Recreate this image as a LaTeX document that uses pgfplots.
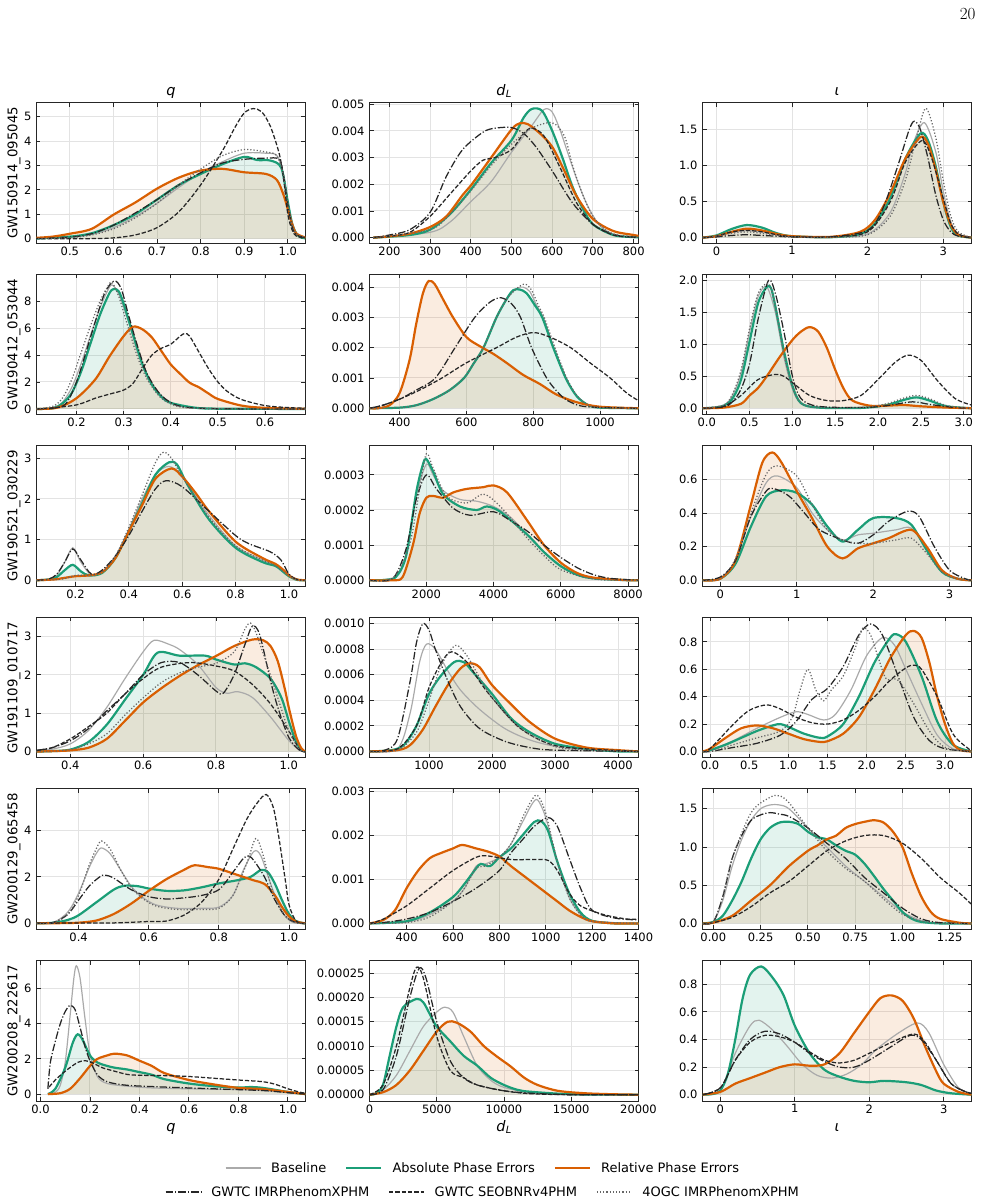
\documentclass[border=0pt]{standalone}
\usepackage{pgfplots}
\pgfplotsset{compat=1.18}
\usepackage{pgfplotstable}
\usepackage{fontspec}
\newfontfamily\dv{DejaVu Sans}[ItalicFont={DejaVu Sans Oblique}]
\definecolor{cG}{HTML}{1B9E77}
\definecolor{cO}{HTML}{D95F02}
\definecolor{cB}{HTML}{AAAAAA}
\definecolor{cK}{HTML}{262626}
\definecolor{cT}{HTML}{666666}
\tikzset{
 sG/.style={draw=cG, line width=2.2pt},
 sO/.style={draw=cO, line width=2.2pt},
 sB/.style={draw=cB, line width=1.2pt},
 sC/.style={draw=cK, line width=1.25pt, dash pattern=on 7.5pt off 2pt on 1.2pt off 2pt},
 sS/.style={draw=cK, line width=1.25pt, dash pattern=on 4.4pt off 1.9pt},
 sT/.style={draw=cT, line width=1.25pt, dash pattern=on 1.2pt off 2pt},
 fG/.style={draw=none, fill=cG, fill opacity=0.12},
 fO/.style={draw=none, fill=cO, fill opacity=0.12},
}
\newcommand{\curves}[6]{%
 \addplot[forget plot, smooth, fG] table {#1} \closedcycle;
 \addplot[forget plot, smooth, fO] table {#2} \closedcycle;
 \addplot[forget plot, smooth, sB] table {#3};
 \addplot[forget plot, smooth, sG] table {#1};
 \addplot[forget plot, smooth, sO] table {#2};
 \ifx#5\relax\else\addplot[forget plot, smooth, sC] table {#5};\fi
 \ifx#6\relax\else\addplot[forget plot, smooth, sS] table {#6};\fi
 \ifx#4\relax\else\addplot[forget plot, smooth, sT] table {#4};\fi
}
\pgfplotsset{
 pnl/.style={
  width=269pt, height=140.5pt, scale only axis, anchor=north west,
  tick align=inside, major tick length=4pt, tick pos=both,
  grid=major, major grid style={black!11, line width=1pt},
  axis line style={black!85, line width=0.9pt},
  tick style={black!85, line width=0.9pt},
  tick label style={font=\dv\fontsize{11.5}{13.8}\selectfont},
  yticklabel style={xshift=-1.5pt},
  title style={at={(axis description cs:0.5,1)}, anchor=base, yshift=1.5pt, font=\dv\itshape\fontsize{14.5}{17}\selectfont},
  xlabel style={at={(axis description cs:0.5,0)}, anchor=base, yshift=-30pt, font=\dv\itshape\fontsize{14.5}{17}\selectfont},
  ylabel style={at={(axis description cs:-0.084,0.5)}, anchor=center, font=\dv\fontsize{13.3}{16}\selectfont},
  scaled x ticks=false, scaled y ticks=false,
 },
 lgd/.style={
  legend columns=3,
  legend image code/.code={\draw[##1] (0pt,0pt) -- (35pt,0pt);},
  legend style={anchor=center, draw=none, fill=none,
   font=\dv\fontsize{13}{15.6}\selectfont,
   /tikz/every odd column/.append style={column sep=8pt},
   /tikz/every even column/.append style={column sep=17pt}},
 },
}
\newcommand{\dL}{d\kern0.3pt\raisebox{-2.5pt}{\fontsize{10}{12}\selectfont L}}
% ---------------- Row A : GW150914_095045 ----------------
\pgfplotstableread[row sep=\\]{x y\\0.42 0\\0.5 0.08\\0.55 0.22\\0.6 0.55\\0.65 1.0\\0.7 1.6\\0.75 2.2\\0.8 2.65\\0.85 3.05\\0.9 3.35\\0.93 3.22\\0.96 3.2\\0.985 2.9\\1.0 1.5\\1.01 0.6\\1.02 0.2\\1.03 0.05\\1.045 0\\}\TAqG
\pgfplotstableread[row sep=\\]{x y\\0.42 0.03\\0.46 0.08\\0.5 0.2\\0.55 0.4\\0.6 0.98\\0.65 1.48\\0.7 2.05\\0.75 2.5\\0.8 2.79\\0.85 2.86\\0.9 2.72\\0.95 2.65\\0.975 2.4\\0.99 1.8\\1.0 1.2\\1.01 0.6\\1.02 0.2\\1.045 0.02\\}\TAqO
\pgfplotstableread[row sep=\\]{x y\\0.42 0\\0.5 0.05\\0.55 0.17\\0.6 0.45\\0.65 0.9\\0.7 1.45\\0.75 2.1\\0.8 2.7\\0.85 3.15\\0.9 3.5\\0.95 3.5\\0.975 3.4\\0.99 2.6\\1.0 1.5\\1.01 0.6\\1.02 0.2\\1.045 0.02\\}\TAqB
\pgfplotstableread[row sep=\\]{x y\\0.42 0\\0.5 0.04\\0.55 0.15\\0.6 0.4\\0.65 0.85\\0.7 1.45\\0.75 2.2\\0.8 2.85\\0.85 3.4\\0.9 3.65\\0.95 3.55\\0.975 3.4\\0.99 2.6\\1.0 1.5\\1.01 0.6\\1.02 0.2\\1.045 0.02\\}\TAqT
\pgfplotstableread[row sep=\\]{x y\\0.42 0\\0.5 0.06\\0.55 0.2\\0.6 0.55\\0.65 1.05\\0.7 1.6\\0.75 2.2\\0.8 2.7\\0.85 3.1\\0.9 3.25\\0.95 3.3\\0.98 3.25\\0.99 2.6\\1.0 1.4\\1.01 0.5\\1.02 0.15\\1.045 0.02\\}\TAqC
\pgfplotstableread[row sep=\\]{x y\\0.42 0\\0.55 0.0\\0.6 0.03\\0.65 0.15\\0.7 0.45\\0.75 1.1\\0.8 2.2\\0.85 3.6\\0.88 4.6\\0.9 5.15\\0.92 5.33\\0.94 5.2\\0.96 4.6\\0.98 3.5\\0.99 2.5\\1.0 1.0\\1.01 0.35\\1.02 0.1\\1.045 0.01\\}\TAqS
\pgfplotstableread[row sep=\\]{x y\\160 0\\250 1e-4\\300 3e-4\\350 9e-4\\400 1.8e-3\\450 2.8e-3\\500 3.65e-3\\530 4.5e-3\\550 4.82e-3\\575 4.75e-3\\600 4.0e-3\\625 3.0e-3\\650 1.9e-3\\675 1.1e-3\\700 5e-4\\750 1e-4\\800 2e-5\\812 1e-5\\}\TAdG
\pgfplotstableread[row sep=\\]{x y\\160 0\\200 5e-5\\250 1.5e-4\\300 4e-4\\340 8e-4\\380 1.6e-3\\400 1.95e-3\\450 3.0e-3\\500 4.05e-3\\520 4.28e-3\\540 4.25e-3\\570 3.9e-3\\600 3.4e-3\\630 2.5e-3\\660 1.55e-3\\700 7e-4\\750 2.5e-4\\800 1e-4\\812 7e-5\\}\TAdO
\pgfplotstableread[row sep=\\]{x y\\160 0\\300 2e-4\\350 6e-4\\400 1.35e-3\\450 2.1e-3\\500 3.2e-3\\550 4.2e-3\\580 4.8e-3\\600 4.7e-3\\620 4.0e-3\\642 3.0e-3\\665 2.0e-3\\690 1.1e-3\\720 4e-4\\760 8e-5\\812 1e-5\\}\TAdB
\pgfplotstableread[row sep=\\]{x y\\160 0\\300 3e-4\\350 9e-4\\400 1.75e-3\\450 2.7e-3\\500 3.5e-3\\550 4.1e-3\\600 4.3e-3\\630 3.8e-3\\650 2.7e-3\\675 1.6e-3\\700 8e-4\\730 3e-4\\760 1e-4\\812 1e-5\\}\TAdT
\pgfplotstableread[row sep=\\]{x y\\160 0\\200 1e-4\\250 3e-4\\300 9.5e-4\\340 2.3e-3\\380 3.3e-3\\430 3.95e-3\\460 4.1e-3\\500 4.12e-3\\530 3.9e-3\\560 3.4e-3\\600 2.5e-3\\650 1.3e-3\\700 5e-4\\750 1.2e-4\\800 2e-5\\812 1e-5\\}\TAdC
\pgfplotstableread[row sep=\\]{x y\\160 0\\200 5e-5\\250 2e-4\\300 8e-4\\350 1.65e-3\\400 2.5e-3\\430 2.9e-3\\460 3.0e-3\\500 3.3e-3\\530 3.9e-3\\550 4.1e-3\\580 3.8e-3\\620 2.6e-3\\660 1.3e-3\\700 5e-4\\750 1e-4\\800 2e-5\\812 1e-5\\}\TAdS
\pgfplotstableread[row sep=\\]{x y\\-0.185 0\\0 0.03\\0.2 0.12\\0.4 0.175\\0.6 0.14\\0.8 0.06\\1.0 0.02\\1.5 0.005\\1.9 0.05\\2.1 0.2\\2.3 0.55\\2.5 1.1\\2.7 1.45\\2.8 1.35\\2.9 1.0\\3.0 0.5\\3.1 0.15\\3.2 0.03\\3.375 0\\}\TAiG
\pgfplotstableread[row sep=\\]{x y\\-0.185 0\\0 0.02\\0.2 0.08\\0.4 0.125\\0.6 0.1\\0.8 0.05\\1.0 0.02\\1.5 0.01\\1.9 0.08\\2.1 0.25\\2.3 0.62\\2.5 1.1\\2.7 1.4\\2.8 1.3\\2.9 0.95\\3.0 0.5\\3.1 0.18\\3.2 0.04\\3.375 0\\}\TAiO
\pgfplotstableread[row sep=\\]{x y\\-0.185 0\\0 0.02\\0.2 0.07\\0.4 0.1\\0.6 0.08\\0.8 0.04\\1.0 0.01\\1.5 0.005\\2.0 0.05\\2.3 0.35\\2.5 0.9\\2.6 1.3\\2.75 1.6\\2.9 1.2\\3.0 0.65\\3.1 0.22\\3.2 0.05\\3.375 0\\}\TAiB
\pgfplotstableread[row sep=\\]{x y\\-0.185 0\\0 0.02\\0.2 0.06\\0.4 0.08\\0.6 0.06\\0.8 0.03\\1.0 0.01\\1.5 0.005\\2.0 0.04\\2.3 0.3\\2.5 0.8\\2.65 1.4\\2.77 1.8\\2.9 1.4\\3.0 0.8\\3.1 0.3\\3.2 0.08\\3.375 0\\}\TAiT
\pgfplotstableread[row sep=\\]{x y\\-0.185 0\\0 0.01\\0.2 0.03\\0.4 0.04\\0.6 0.03\\0.8 0.02\\1.0 0.01\\1.5 0.01\\2.0 0.1\\2.2 0.4\\2.4 1.0\\2.55 1.5\\2.62 1.62\\2.7 1.5\\2.8 1.1\\2.9 0.6\\3.0 0.25\\3.1 0.08\\3.2 0.02\\3.375 0\\}\TAiC
\pgfplotstableread[row sep=\\]{x y\\-0.185 0\\0 0.02\\0.2 0.08\\0.4 0.1\\0.6 0.08\\0.8 0.04\\1.0 0.015\\1.5 0.01\\2.0 0.08\\2.3 0.5\\2.5 1.05\\2.72 1.35\\2.85 1.1\\3.0 0.55\\3.1 0.2\\3.2 0.05\\3.375 0\\}\TAiS
% ---------------- Row B : GW190412_053044 ----------------
\pgfplotstableread[row sep=\\]{x y\\0.115 0\\0.15 0.05\\0.17 0.4\\0.19 1.2\\0.21 2.8\\0.23 4.9\\0.25 7.0\\0.27 8.6\\0.28 8.9\\0.29 8.7\\0.30 7.8\\0.32 5.5\\0.34 3.3\\0.36 1.8\\0.38 0.9\\0.40 0.45\\0.45 0.1\\0.5 0.02\\0.686 0\\}\TBqG
\pgfplotstableread[row sep=\\]{x y\\0.115 0\\0.16 0.1\\0.2 0.8\\0.24 2.2\\0.27 3.9\\0.3 5.4\\0.32 6.1\\0.34 5.9\\0.36 5.3\\0.38 4.3\\0.4 3.3\\0.42 2.6\\0.44 1.95\\0.46 1.6\\0.48 1.15\\0.5 0.74\\0.55 0.25\\0.6 0.08\\0.686 0.01\\}\TBqO
\pgfplotstableread[row sep=\\]{x y\\0.115 0\\0.15 0.1\\0.17 0.5\\0.19 1.6\\0.21 3.4\\0.23 5.5\\0.25 7.5\\0.265 8.7\\0.275 9.2\\0.29 8.5\\0.31 6.5\\0.33 4.2\\0.35 2.5\\0.38 1.0\\0.42 0.2\\0.5 0.02\\0.686 0\\}\TBqB
\pgfplotstableread[row sep=\\]{x y\\0.115 0\\0.15 0.2\\0.17 0.8\\0.19 2.2\\0.21 4.2\\0.23 6.2\\0.25 8.0\\0.265 9.0\\0.275 9.4\\0.29 8.3\\0.31 6.0\\0.33 3.8\\0.35 2.2\\0.38 0.8\\0.42 0.15\\0.5 0.01\\0.686 0\\}\TBqT
\pgfplotstableread[row sep=\\]{x y\\0.115 0\\0.16 0.1\\0.18 0.5\\0.2 2.0\\0.22 4.2\\0.24 6.5\\0.26 8.6\\0.28 9.5\\0.295 8.9\\0.31 7.0\\0.33 4.6\\0.35 2.6\\0.38 1.0\\0.42 0.2\\0.5 0.02\\0.686 0\\}\TBqC
\pgfplotstableread[row sep=\\]{x y\\0.115 0\\0.14 0.05\\0.2 0.3\\0.24 0.8\\0.27 1.1\\0.3 1.4\\0.32 1.9\\0.34 3.0\\0.36 4.0\\0.38 4.5\\0.4 4.8\\0.42 5.4\\0.43 5.6\\0.44 5.4\\0.46 4.2\\0.48 3.0\\0.5 2.0\\0.52 1.3\\0.55 0.7\\0.6 0.25\\0.65 0.1\\0.686 0.05\\}\TBqS
\pgfplotstableread[row sep=\\]{x y\\310 0\\400 2e-5\\450 1e-4\\500 3e-4\\550 6e-4\\593 1e-3\\620 1.45e-3\\651 2e-3\\690 3e-3\\720 3.6e-3\\740 3.9e-3\\760 3.92e-3\\780 3.8e-3\\805 3.4e-3\\827 3e-3\\860 2e-3\\897 1e-3\\930 4e-4\\965 1e-4\\1000 2e-5\\1115 0\\}\TBdG
\pgfplotstableread[row sep=\\]{x y\\310 0\\335 0\\370 1e-4\\400 5e-4\\430 1.6e-3\\450 2.8e-3\\470 3.8e-3\\487 4.2e-3\\505 4.1e-3\\530 3.6e-3\\560 3.0e-3\\600 2.35e-3\\640 2.05e-3\\680 1.8e-3\\720 1.5e-3\\770 1.1e-3\\820 8e-4\\870 4.5e-4\\930 2e-4\\1000 5e-5\\1115 0\\}\TBdO
\pgfplotstableread[row sep=\\]{x y\\310 0\\400 2e-5\\450 1e-4\\500 3e-4\\550 6e-4\\593 1e-3\\620 1.45e-3\\651 2e-3\\690 3e-3\\720 3.6e-3\\750 3.95e-3\\770 4.0e-3\\790 3.85e-3\\810 3.4e-3\\830 3e-3\\862 2e-3\\898 1e-3\\930 4e-4\\965 1e-4\\1000 2e-5\\1115 0\\}\TBdB
\pgfplotstableread[row sep=\\]{x y\\310 0\\400 2e-5\\450 1e-4\\500 3e-4\\550 6e-4\\593 1e-3\\620 1.45e-3\\651 2e-3\\690 3e-3\\720 3.6e-3\\750 3.95e-3\\775 4.1e-3\\795 3.9e-3\\815 3.4e-3\\833 3e-3\\865 2e-3\\900 1e-3\\932 4e-4\\965 1e-4\\1000 2e-5\\1115 0\\}\TBdT
\pgfplotstableread[row sep=\\]{x y\\310 0\\350 1e-4\\400 3e-4\\450 6e-4\\507 1e-3\\566 2e-3\\625 3e-3\\670 3.5e-3\\703 3.65e-3\\735 3.45e-3\\762 3e-3\\795 2e-3\\840 1e-3\\880 4.5e-4\\912 2e-4\\960 5e-5\\1115 0\\}\TBdC
\pgfplotstableread[row sep=\\]{x y\\310 0\\350 1e-4\\400 3e-4\\460 6e-4\\527 1e-3\\600 1.5e-3\\690 2e-3\\750 2.35e-3\\801 2.5e-3\\850 2.35e-3\\912 2e-3\\970 1.5e-3\\1030 1e-3\\1080 5e-4\\1115 2.5e-4\\}\TBdS
\pgfplotstableread[row sep=\\]{x y\\-0.05 0\\0.1 0.01\\0.2 0.04\\0.3 0.15\\0.4 0.45\\0.5 1.05\\0.6 1.65\\0.7 1.9\\0.75 1.88\\0.8 1.6\\0.9 0.9\\1.0 0.35\\1.1 0.08\\1.3 0.01\\1.8 0.005\\2.1 0.05\\2.3 0.13\\2.45 0.17\\2.6 0.12\\2.8 0.03\\3.09 0\\}\TBiG
\pgfplotstableread[row sep=\\]{x y\\-0.05 0\\0.2 0.01\\0.4 0.07\\0.5 0.2\\0.6 0.32\\0.7 0.5\\0.85 0.8\\1.0 1.07\\1.1 1.2\\1.2 1.27\\1.3 1.2\\1.4 0.95\\1.5 0.6\\1.6 0.3\\1.7 0.12\\1.9 0.04\\2.1 0.04\\2.3 0.05\\2.5 0.03\\2.8 0.01\\3.09 0\\}\TBiO
\pgfplotstableread[row sep=\\]{x y\\-0.05 0\\0.2 0.05\\0.3 0.2\\0.4 0.55\\0.5 1.2\\0.6 1.75\\0.7 1.9\\0.8 1.5\\0.9 0.8\\1.0 0.3\\1.1 0.07\\1.3 0.01\\1.8 0.005\\2.1 0.05\\2.3 0.13\\2.45 0.17\\2.6 0.12\\2.8 0.03\\3.09 0\\}\TBiB
\pgfplotstableread[row sep=\\]{x y\\-0.05 0\\0.2 0.05\\0.3 0.22\\0.4 0.6\\0.5 1.25\\0.6 1.8\\0.72 1.95\\0.8 1.6\\0.9 0.85\\1.0 0.33\\1.1 0.08\\1.3 0.01\\1.8 0.01\\2.1 0.07\\2.3 0.16\\2.45 0.2\\2.6 0.15\\2.8 0.04\\3.09 0\\}\TBiT
\pgfplotstableread[row sep=\\]{x y\\-0.05 0\\0.2 0.02\\0.3 0.1\\0.4 0.3\\0.5 0.7\\0.6 1.4\\0.72 2.0\\0.8 1.8\\0.9 1.2\\1.0 0.5\\1.1 0.15\\1.3 0.03\\1.8 0.01\\2.1 0.04\\2.4 0.1\\2.6 0.06\\2.9 0.01\\3.09 0\\}\TBiC
\pgfplotstableread[row sep=\\]{x y\\-0.05 0\\0.2 0.03\\0.4 0.2\\0.6 0.45\\0.8 0.53\\0.9 0.5\\1.0 0.4\\1.2 0.2\\1.4 0.12\\1.6 0.12\\1.8 0.2\\2.0 0.45\\2.2 0.72\\2.35 0.83\\2.5 0.75\\2.7 0.42\\2.9 0.15\\3.09 0.05\\}\TBiS
% ---------------- Row C : GW190521_030229 ----------------
\pgfplotstableread[row sep=\\]{x y\\0.054 0\\0.1 0.02\\0.13 0.08\\0.16 0.25\\0.19 0.38\\0.22 0.22\\0.25 0.12\\0.3 0.18\\0.35 0.55\\0.4 1.2\\0.45 1.9\\0.5 2.6\\0.55 2.9\\0.58 2.85\\0.62 2.35\\0.7 1.5\\0.8 0.8\\0.9 0.45\\0.95 0.35\\0.98 0.2\\1.0 0.1\\1.03 0.01\\1.062 0\\}\TCqG
\pgfplotstableread[row sep=\\]{x y\\0.054 0\\0.12 0.02\\0.15 0.05\\0.2 0.1\\0.25 0.12\\0.3 0.2\\0.35 0.55\\0.4 1.2\\0.45 1.85\\0.5 2.5\\0.56 2.75\\0.6 2.55\\0.65 2.15\\0.7 1.7\\0.8 0.95\\0.9 0.55\\0.95 0.4\\0.98 0.25\\1.0 0.12\\1.03 0.02\\1.062 0\\}\TCqO
\pgfplotstableread[row sep=\\]{x y\\0.054 0\\0.1 0.02\\0.13 0.12\\0.16 0.45\\0.19 0.8\\0.22 0.45\\0.26 0.12\\0.3 0.2\\0.35 0.6\\0.4 1.25\\0.45 2.0\\0.5 2.6\\0.55 2.8\\0.6 2.55\\0.7 1.6\\0.8 0.85\\0.9 0.5\\0.95 0.38\\1.0 0.12\\1.03 0.01\\1.062 0\\}\TCqB
\pgfplotstableread[row sep=\\]{x y\\0.054 0\\0.15 0.03\\0.2 0.12\\0.25 0.12\\0.3 0.2\\0.35 0.6\\0.4 1.3\\0.45 2.1\\0.5 2.9\\0.53 3.15\\0.56 3.0\\0.6 2.55\\0.7 1.55\\0.8 0.85\\0.9 0.5\\0.95 0.35\\1.0 0.12\\1.03 0.01\\1.062 0\\}\TCqT
\pgfplotstableread[row sep=\\]{x y\\0.054 0\\0.1 0.03\\0.13 0.15\\0.16 0.45\\0.19 0.77\\0.22 0.5\\0.26 0.15\\0.3 0.25\\0.35 0.6\\0.4 1.1\\0.45 1.7\\0.5 2.25\\0.54 2.45\\0.6 2.3\\0.7 1.7\\0.8 1.1\\0.85 0.9\\0.93 0.7\\0.97 0.5\\1.0 0.15\\1.03 0.02\\1.062 0\\}\TCqC
\pgfplotstableread[row sep=\\]{x y\\310 0\\800 1e-6\\1100 1e-5\\1400 7e-5\\1700 2.5e-4\\1900 3.3e-4\\2000 3.45e-4\\2200 3.1e-4\\2500 2.45e-4\\3000 2.1e-4\\3500 2.0e-4\\3800 2.1e-4\\4200 1.95e-4\\5000 1.3e-4\\5500 8e-5\\6000 4e-5\\6500 1.5e-5\\7000 5e-6\\8000 0\\8310 0\\}\TCdG
\pgfplotstableread[row sep=\\]{x y\\310 0\\1000 0\\1300 1e-5\\1600 1.0e-4\\1800 1.9e-4\\2000 2.35e-4\\2200 2.4e-4\\2500 2.35e-4\\2800 2.5e-4\\3200 2.6e-4\\3700 2.65e-4\\4000 2.7e-4\\4400 2.5e-4\\5000 1.7e-4\\5500 1.0e-4\\6000 5e-5\\6500 2e-5\\7000 7e-6\\8000 0\\8310 0\\}\TCdO
\pgfplotstableread[row sep=\\]{x y\\310 0\\1100 1e-5\\1400 7e-5\\1700 2.4e-4\\2000 3.3e-4\\2200 3.0e-4\\2500 2.55e-4\\3000 2.3e-4\\3500 2.25e-4\\4000 2.1e-4\\4500 1.8e-4\\5000 1.3e-4\\5500 8e-5\\6000 4e-5\\6500 1.5e-5\\7000 5e-6\\8310 0\\}\TCdB
\pgfplotstableread[row sep=\\]{x y\\310 0\\1000 5e-6\\1500 1.0e-4\\1800 2.6e-4\\2000 3.6e-4\\2200 3.2e-4\\2600 2.4e-4\\3200 2.2e-4\\3700 2.45e-4\\4200 2.1e-4\\5000 1.2e-4\\5500 7e-5\\6000 3e-5\\7000 3e-6\\8310 0\\}\TCdT
\pgfplotstableread[row sep=\\]{x y\\310 0\\1000 5e-6\\1400 9e-5\\1700 2.3e-4\\2000 3.0e-4\\2300 2.6e-4\\2800 2.05e-4\\3300 1.85e-4\\4000 1.95e-4\\4500 1.7e-4\\5000 1.4e-4\\5500 1.0e-4\\6000 6.5e-5\\6500 3.5e-5\\7000 1.5e-5\\7500 5e-6\\8310 0\\}\TCdC
\pgfplotstableread[row sep=\\]{x y\\-0.234 0\\0 0.01\\0.2 0.1\\0.4 0.32\\0.6 0.5\\0.8 0.535\\1.0 0.52\\1.2 0.45\\1.4 0.32\\1.6 0.23\\1.8 0.3\\2.0 0.37\\2.3 0.37\\2.5 0.33\\2.7 0.18\\2.9 0.05\\3.1 0.01\\3.287 0\\}\TCiG
\pgfplotstableread[row sep=\\]{x y\\-0.234 0\\0 0.01\\0.2 0.12\\0.4 0.45\\0.55 0.7\\0.68 0.76\\0.8 0.7\\1.0 0.53\\1.2 0.37\\1.4 0.2\\1.6 0.13\\1.8 0.19\\2.0 0.22\\2.2 0.25\\2.5 0.3\\2.7 0.2\\2.9 0.06\\3.1 0.01\\3.287 0\\}\TCiO
\pgfplotstableread[row sep=\\]{x y\\-0.234 0\\0 0.01\\0.2 0.12\\0.4 0.38\\0.6 0.58\\0.75 0.62\\1.0 0.55\\1.2 0.4\\1.4 0.3\\1.6 0.24\\1.8 0.27\\2.0 0.28\\2.3 0.3\\2.5 0.31\\2.7 0.18\\2.9 0.05\\3.1 0.01\\3.287 0\\}\TCiB
\pgfplotstableread[row sep=\\]{x y\\-0.234 0\\0 0.01\\0.2 0.13\\0.4 0.4\\0.6 0.63\\0.75 0.68\\1.0 0.62\\1.2 0.45\\1.4 0.3\\1.6 0.24\\1.8 0.22\\2.0 0.22\\2.3 0.24\\2.5 0.25\\2.7 0.16\\2.9 0.05\\3.1 0.01\\3.287 0\\}\TCiT
\pgfplotstableread[row sep=\\]{x y\\-0.234 0\\0 0.02\\0.2 0.12\\0.4 0.38\\0.6 0.53\\0.7 0.545\\0.9 0.5\\1.1 0.4\\1.3 0.3\\1.6 0.24\\1.8 0.22\\2.0 0.27\\2.2 0.35\\2.45 0.41\\2.6 0.38\\2.8 0.2\\3.0 0.06\\3.2 0.01\\3.287 0\\}\TCiC
% ---------------- Row D : GW191109_010717 ----------------
\pgfplotstableread[row sep=\\]{x y\\0.307 0\\0.35 0.01\\0.4 0.05\\0.45 0.25\\0.5 0.7\\0.55 1.35\\0.6 2.0\\0.64 2.58\\0.7 2.5\\0.77 2.5\\0.8 2.4\\0.85 2.27\\0.88 2.3\\0.91 2.2\\0.95 1.9\\0.98 1.4\\1.0 0.8\\1.02 0.25\\1.035 0.05\\1.046 0\\}\TDqG
\pgfplotstableread[row sep=\\]{x y\\0.307 0\\0.35 0.01\\0.4 0.03\\0.45 0.1\\0.5 0.33\\0.55 0.8\\0.6 1.28\\0.65 1.65\\0.7 1.97\\0.75 2.25\\0.8 2.49\\0.85 2.75\\0.9 2.92\\0.93 2.9\\0.95 2.75\\0.97 2.35\\0.99 1.6\\1.0 1.15\\1.02 0.4\\1.035 0.08\\1.046 0\\}\TDqO
\pgfplotstableread[row sep=\\]{x y\\0.307 0.02\\0.35 0.06\\0.4 0.2\\0.45 0.55\\0.5 1.15\\0.55 1.9\\0.6 2.6\\0.63 2.9\\0.67 2.8\\0.7 2.66\\0.75 2.27\\0.8 1.67\\0.83 1.52\\0.86 1.56\\0.9 1.41\\0.95 0.9\\1.0 0.29\\1.03 0.03\\1.046 0\\}\TDqB
\pgfplotstableread[row sep=\\]{x y\\0.307 0\\0.35 0.01\\0.4 0.05\\0.45 0.2\\0.5 0.46\\0.55 0.95\\0.6 1.4\\0.65 1.8\\0.7 2.05\\0.75 2.2\\0.8 2.3\\0.85 2.6\\0.88 3.2\\0.895 3.35\\0.91 3.1\\0.94 2.27\\0.97 1.4\\1.0 0.54\\1.03 0.05\\1.046 0\\}\TDqT
\pgfplotstableread[row sep=\\]{x y\\0.307 0.03\\0.35 0.1\\0.4 0.28\\0.45 0.6\\0.5 1.06\\0.55 1.5\\0.6 2.0\\0.65 2.32\\0.7 2.32\\0.75 2.0\\0.8 1.58\\0.82 1.52\\0.85 2.0\\0.88 2.8\\0.9 3.27\\0.92 3.05\\0.95 1.84\\0.97 1.15\\1.0 0.37\\1.03 0.03\\1.046 0\\}\TDqC
\pgfplotstableread[row sep=\\]{x y\\0.307 0.03\\0.35 0.1\\0.4 0.33\\0.45 0.65\\0.5 1.0\\0.55 1.5\\0.6 1.9\\0.65 2.2\\0.73 2.32\\0.8 2.23\\0.85 2.1\\0.9 1.75\\0.95 1.24\\1.0 0.54\\1.03 0.05\\1.046 0\\}\TDqS
\pgfplotstableread[row sep=\\]{x y\\55 0\\400 1e-5\\600 5e-5\\800 2e-4\\1000 4.5e-4\\1200 6e-4\\1400 7e-4\\1550 7e-4\\1700 6.2e-4\\2000 4.5e-4\\2300 2.6e-4\\2600 1.5e-4\\3000 6e-5\\3500 2e-5\\4000 0\\4325 0\\}\TDdG
\pgfplotstableread[row sep=\\]{x y\\55 0\\500 1e-5\\700 5e-5\\900 1.7e-4\\1100 3.5e-4\\1300 5.2e-4\\1500 6.5e-4\\1650 6.9e-4\\1800 6.6e-4\\2000 5.2e-4\\2300 3.7e-4\\2600 2.3e-4\\3000 1e-4\\3500 3e-5\\4000 1e-5\\4325 0\\}\TDdO
\pgfplotstableread[row sep=\\]{x y\\55 0\\500 2e-5\\700 3e-4\\850 7e-4\\960 8.4e-4\\1100 8e-4\\1300 6.3e-4\\1500 4.8e-4\\1800 3.3e-4\\2200 1.8e-4\\2600 9e-5\\3000 4e-5\\3500 1e-5\\4325 0\\}\TDdB
\pgfplotstableread[row sep=\\]{x y\\55 0\\500 1e-5\\800 1.5e-4\\1000 4e-4\\1200 6.8e-4\\1420 8.3e-4\\1600 7.5e-4\\1800 5.8e-4\\2000 4.2e-4\\2400 2e-4\\2800 8e-5\\3200 2e-5\\4325 0\\}\TDdT
\pgfplotstableread[row sep=\\]{x y\\55 0\\300 1e-5\\500 1e-4\\700 5.5e-4\\800 8.5e-4\\900 1e-3\\1000 9.5e-4\\1100 8e-4\\1300 5.5e-4\\1500 3.5e-4\\1800 1.8e-4\\2200 8e-5\\2600 3e-5\\3000 1e-5\\4325 0\\}\TDdC
\pgfplotstableread[row sep=\\]{x y\\55 0\\500 2e-5\\800 2e-4\\1000 5e-4\\1200 7e-4\\1360 7.8e-4\\1600 7e-4\\1800 5.5e-4\\2000 4.2e-4\\2400 2e-4\\2800 8e-5\\3200 3e-5\\4325 0\\}\TDdS
\pgfplotstableread[row sep=\\]{x y\\-0.096 0\\0 0.01\\0.2 0.05\\0.4 0.1\\0.6 0.15\\0.8 0.19\\0.9 0.2\\1.0 0.18\\1.2 0.13\\1.4 0.1\\1.5 0.11\\1.7 0.2\\1.9 0.4\\2.1 0.65\\2.3 0.83\\2.38 0.855\\2.5 0.8\\2.7 0.55\\2.9 0.22\\3.1 0.05\\3.338 0\\}\TDiG
\pgfplotstableread[row sep=\\]{x y\\-0.096 0\\0 0.02\\0.2 0.1\\0.4 0.17\\0.6 0.19\\0.8 0.17\\1.0 0.13\\1.2 0.09\\1.4 0.07\\1.5 0.075\\1.7 0.13\\1.9 0.25\\2.1 0.45\\2.3 0.68\\2.5 0.85\\2.6 0.88\\2.7 0.83\\2.8 0.65\\2.9 0.4\\3.0 0.2\\3.1 0.06\\3.2 0.01\\3.338 0\\}\TDiO
\pgfplotstableread[row sep=\\]{x y\\-0.096 0\\0 0.01\\0.3 0.08\\0.6 0.17\\0.9 0.25\\1.1 0.29\\1.25 0.27\\1.45 0.23\\1.6 0.27\\1.8 0.45\\2.0 0.7\\2.2 0.83\\2.35 0.78\\2.5 0.6\\2.7 0.35\\2.9 0.12\\3.1 0.02\\3.338 0\\}\TDiB
\pgfplotstableread[row sep=\\]{x y\\-0.096 0\\0 0.0\\0.3 0.05\\0.6 0.1\\0.9 0.15\\1.05 0.25\\1.15 0.45\\1.25 0.6\\1.35 0.45\\1.45 0.37\\1.55 0.45\\1.7 0.55\\1.85 0.75\\1.95 0.9\\2.05 0.85\\2.15 0.68\\2.25 0.53\\2.4 0.52\\2.6 0.35\\2.8 0.15\\3.0 0.03\\3.338 0\\}\TDiT
\pgfplotstableread[row sep=\\]{x y\\-0.096 0\\0 0.0\\0.3 0.03\\0.6 0.06\\0.9 0.12\\1.1 0.22\\1.3 0.38\\1.5 0.46\\1.7 0.62\\1.9 0.85\\2.05 0.93\\2.2 0.85\\2.4 0.55\\2.6 0.25\\2.8 0.08\\3.0 0.02\\3.338 0\\}\TDiC
\pgfplotstableread[row sep=\\]{x y\\-0.096 0\\0 0.02\\0.3 0.2\\0.5 0.3\\0.72 0.34\\0.9 0.31\\1.1 0.25\\1.3 0.21\\1.5 0.2\\1.7 0.23\\1.9 0.3\\2.1 0.4\\2.3 0.52\\2.5 0.61\\2.6 0.63\\2.7 0.6\\2.9 0.4\\3.1 0.13\\3.3 0.02\\3.338 0.01\\}\TDiS
% ---------------- Row E : GW200129_065458 ----------------
\pgfplotstableread[row sep=\\]{x y\\0.28 0\\0.33 0.03\\0.37 0.15\\0.4 0.35\\0.45 0.9\\0.5 1.45\\0.53 1.62\\0.57 1.6\\0.6 1.5\\0.65 1.4\\0.7 1.42\\0.75 1.55\\0.8 1.72\\0.85 1.85\\0.89 2.0\\0.92 2.3\\0.94 2.2\\0.96 1.7\\0.98 1.0\\1.0 0.4\\1.02 0.1\\1.04 0.01\\1.047 0\\}\TEqG
\pgfplotstableread[row sep=\\]{x y\\0.28 0\\0.35 0.01\\0.4 0.03\\0.45 0.12\\0.5 0.4\\0.55 0.85\\0.6 1.4\\0.65 1.9\\0.7 2.3\\0.73 2.5\\0.77 2.42\\0.8 2.35\\0.85 2.1\\0.9 1.85\\0.93 1.7\\0.96 1.2\\0.98 0.7\\1.0 0.3\\1.02 0.08\\1.047 0\\}\TEqO
\pgfplotstableread[row sep=\\]{x y\\0.28 0\\0.33 0.05\\0.37 0.5\\0.4 1.3\\0.43 2.4\\0.45 3.0\\0.465 3.25\\0.49 3.0\\0.52 2.3\\0.55 1.6\\0.58 1.15\\0.62 0.8\\0.68 0.65\\0.75 0.65\\0.8 0.7\\0.84 1.2\\0.87 2.3\\0.9 3.1\\0.92 2.9\\0.95 1.6\\0.98 0.5\\1.01 0.05\\1.047 0\\}\TEqB
\pgfplotstableread[row sep=\\]{x y\\0.28 0\\0.33 0.03\\0.37 0.4\\0.4 1.2\\0.43 2.5\\0.45 3.2\\0.465 3.55\\0.49 3.2\\0.52 2.3\\0.55 1.55\\0.58 1.1\\0.62 0.75\\0.68 0.6\\0.75 0.6\\0.8 0.65\\0.84 1.2\\0.88 2.6\\0.905 3.65\\0.925 3.0\\0.955 1.3\\0.99 0.3\\1.02 0.02\\1.047 0\\}\TEqT
\pgfplotstableread[row sep=\\]{x y\\0.28 0\\0.33 0.05\\0.37 0.4\\0.4 1.0\\0.43 1.6\\0.46 2.0\\0.475 2.08\\0.5 1.95\\0.55 1.45\\0.6 1.15\\0.65 1.05\\0.7 1.1\\0.75 1.2\\0.8 1.45\\0.84 2.2\\0.87 2.8\\0.885 2.9\\0.9 2.7\\0.93 2.0\\0.96 1.0\\0.99 0.3\\1.02 0.03\\1.047 0\\}\TEqC
\pgfplotstableread[row sep=\\]{x y\\0.28 0\\0.4 0.02\\0.5 0.02\\0.6 0.08\\0.65 0.1\\0.7 0.35\\0.75 0.9\\0.8 1.9\\0.84 3.2\\0.88 4.5\\0.91 5.2\\0.935 5.55\\0.955 5.0\\0.97 3.8\\0.99 1.8\\1.0 0.8\\1.02 0.1\\1.047 0\\}\TEqS
\pgfplotstableread[row sep=\\]{x y\\240 0\\400 5e-5\\500 2.5e-4\\600 6e-4\\650 9e-4\\700 1.25e-3\\720 1.35e-3\\760 1.3e-3\\800 1.5e-3\\850 1.7e-3\\900 2.0e-3\\950 2.3e-3\\980 2.32e-3\\1010 2.1e-3\\1050 1.4e-3\\1100 7e-4\\1150 2.5e-4\\1200 6e-5\\1300 0\\1400 0\\}\TEdG
\pgfplotstableread[row sep=\\]{x y\\240 0\\300 8e-5\\350 3e-4\\400 8e-4\\450 1.2e-3\\500 1.48e-3\\550 1.6e-3\\600 1.7e-3\\640 1.78e-3\\700 1.7e-3\\750 1.63e-3\\800 1.52e-3\\850 1.3e-3\\900 1.1e-3\\950 9e-4\\1000 7e-4\\1050 5e-4\\1100 3e-4\\1150 1.5e-4\\1200 5e-5\\1300 0\\1400 0\\}\TEdO
\pgfplotstableread[row sep=\\]{x y\\240 0\\400 3e-5\\500 2e-4\\600 5e-4\\650 8e-4\\700 1.3e-3\\740 1.35e-3\\800 1.5e-3\\850 1.8e-3\\900 2.3e-3\\940 2.7e-3\\965 2.8e-3\\1000 2.4e-3\\1050 1.4e-3\\1100 6e-4\\1150 2e-4\\1200 5e-5\\1400 0\\}\TEdB
\pgfplotstableread[row sep=\\]{x y\\240 0\\400 2e-5\\500 1.5e-4\\600 5e-4\\650 8e-4\\700 1.25e-3\\740 1.3e-3\\800 1.5e-3\\850 1.8e-3\\900 2.4e-3\\940 2.8e-3\\965 2.9e-3\\1000 2.5e-3\\1050 1.4e-3\\1100 6e-4\\1150 2e-4\\1200 5e-5\\1400 0\\}\TEdT
\pgfplotstableread[row sep=\\]{x y\\240 0\\300 2e-5\\400 1e-4\\500 2.5e-4\\600 5e-4\\700 8e-4\\800 1.2e-3\\850 1.6e-3\\900 1.9e-3\\950 2.2e-3\\1010 2.4e-3\\1050 2.2e-3\\1100 1.5e-3\\1150 8e-4\\1200 3e-4\\1300 1.2e-4\\1400 8e-5\\}\TEdC
\pgfplotstableread[row sep=\\]{x y\\240 0\\300 1e-4\\400 4e-4\\500 8e-4\\600 1.2e-3\\700 1.5e-3\\750 1.53e-3\\850 1.45e-3\\950 1.45e-3\\1010 1.43e-3\\1050 1.2e-3\\1100 7e-4\\1150 4e-4\\1250 2e-4\\1350 1e-4\\1400 1e-4\\}\TEdS
\pgfplotstableread[row sep=\\]{x y\\-0.057 0\\0 0.02\\0.05 0.1\\0.1 0.3\\0.15 0.55\\0.2 0.85\\0.25 1.1\\0.3 1.25\\0.35 1.32\\0.4 1.33\\0.45 1.3\\0.5 1.2\\0.55 1.13\\0.6 1.1\\0.65 1.02\\0.7 0.95\\0.75 0.9\\0.8 0.78\\0.85 0.62\\0.9 0.45\\0.95 0.3\\1.0 0.15\\1.05 0.06\\1.1 0.02\\1.2 0\\1.365 0\\}\TEiG
\pgfplotstableread[row sep=\\]{x y\\-0.057 0\\0 0.01\\0.1 0.1\\0.2 0.3\\0.3 0.5\\0.4 0.75\\0.5 0.95\\0.55 1.02\\0.6 1.1\\0.65 1.15\\0.7 1.25\\0.75 1.3\\0.8 1.33\\0.85 1.35\\0.9 1.32\\0.95 1.2\\1.0 1.0\\1.05 0.65\\1.1 0.35\\1.15 0.15\\1.2 0.06\\1.3 0.01\\1.365 0\\}\TEiO
\pgfplotstableread[row sep=\\]{x y\\-0.057 0\\0 0.02\\0.05 0.3\\0.1 0.75\\0.15 1.1\\0.2 1.35\\0.25 1.5\\0.3 1.55\\0.35 1.55\\0.4 1.5\\0.5 1.25\\0.6 1.0\\0.7 0.75\\0.8 0.55\\0.9 0.35\\1.0 0.15\\1.1 0.04\\1.2 0\\1.365 0\\}\TEiB
\pgfplotstableread[row sep=\\]{x y\\-0.057 0\\0 0.02\\0.05 0.35\\0.1 0.85\\0.2 1.45\\0.3 1.65\\0.35 1.67\\0.4 1.58\\0.5 1.25\\0.6 0.95\\0.7 0.72\\0.8 0.55\\0.9 0.32\\1.0 0.12\\1.1 0.03\\1.2 0\\1.365 0\\}\TEiT
\pgfplotstableread[row sep=\\]{x y\\-0.057 0\\0 0.02\\0.05 0.35\\0.1 0.85\\0.15 1.15\\0.2 1.35\\0.25 1.42\\0.3 1.45\\0.35 1.43\\0.4 1.4\\0.5 1.25\\0.6 1.05\\0.7 0.85\\0.8 0.6\\0.9 0.4\\1.0 0.2\\1.1 0.06\\1.2 0.01\\1.365 0\\}\TEiC
\pgfplotstableread[row sep=\\]{x y\\-0.057 0\\0 0.01\\0.1 0.08\\0.2 0.22\\0.3 0.4\\0.4 0.55\\0.5 0.75\\0.6 0.95\\0.7 1.08\\0.8 1.15\\0.9 1.15\\1.0 1.05\\1.1 0.85\\1.2 0.6\\1.3 0.4\\1.365 0.25\\}\TEiS
% ---------------- Row F : GW200208_222617 ----------------
\pgfplotstableread[row sep=\\]{x y\\0.03 0\\0.06 0.3\\0.1 1.5\\0.13 2.9\\0.15 3.4\\0.17 3.1\\0.2 2.2\\0.23 1.8\\0.27 1.6\\0.3 1.5\\0.35 1.4\\0.4 1.25\\0.45 1.1\\0.5 0.85\\0.6 0.6\\0.7 0.45\\0.8 0.37\\0.85 0.4\\0.9 0.35\\1.0 0.12\\1.071 0\\}\TFqG
\pgfplotstableread[row sep=\\]{x y\\0.03 0\\0.08 0.05\\0.12 0.3\\0.16 0.9\\0.2 1.6\\0.23 2.0\\0.27 2.2\\0.3 2.3\\0.35 2.2\\0.4 1.9\\0.45 1.6\\0.5 1.2\\0.6 0.8\\0.7 0.55\\0.8 0.35\\0.9 0.28\\1.0 0.12\\1.071 0\\}\TFqO
\pgfplotstableread[row sep=\\]{x y\\0.03 0\\0.06 0.1\\0.08 0.5\\0.1 1.8\\0.12 4.5\\0.135 6.6\\0.145 7.3\\0.16 6.6\\0.18 4.3\\0.2 2.3\\0.23 1.0\\0.27 0.6\\0.35 0.45\\0.45 0.35\\0.6 0.3\\0.8 0.25\\0.9 0.2\\1.0 0.08\\1.071 0\\}\TFqB
\pgfplotstableread[row sep=\\]{x y\\0.03 0.3\\0.04 1.8\\0.06 3.0\\0.08 4.0\\0.1 4.7\\0.12 5.05\\0.14 4.8\\0.16 3.8\\0.18 2.7\\0.2 1.9\\0.23 1.1\\0.27 0.7\\0.35 0.5\\0.5 0.4\\0.7 0.3\\0.9 0.2\\1.0 0.08\\1.071 0\\}\TFqC
\pgfplotstableread[row sep=\\]{x y\\0.035 0.4\\0.06 0.8\\0.1 1.3\\0.15 1.8\\0.18 1.9\\0.2 1.85\\0.25 1.5\\0.3 1.3\\0.35 1.12\\0.4 1.07\\0.5 1.05\\0.6 1.0\\0.7 0.9\\0.8 0.8\\0.9 0.7\\0.95 0.55\\1.0 0.3\\1.05 0.1\\1.071 0.05\\}\TFqS
\pgfplotstableread[row sep=\\]{x y\\0 0\\500 3e-6\\1000 2e-5\\1500 8e-5\\2000 1.4e-4\\2500 1.8e-4\\3500 1.97e-4\\4000 1.9e-4\\4500 1.65e-4\\5000 1.4e-4\\6000 1.1e-4\\7000 8e-5\\8000 6e-5\\9000 3.5e-5\\10000 2e-5\\11000 1e-5\\12000 6e-6\\15000 1e-6\\20000 0\\}\TFdG
\pgfplotstableread[row sep=\\]{x y\\0 0\\1000 5e-6\\2000 2e-5\\3000 5e-5\\4000 9e-5\\5000 1.3e-4\\5800 1.5e-4\\6500 1.48e-4\\7500 1.3e-4\\8500 1.0e-4\\9500 7.8e-5\\10500 5.8e-5\\11500 3.5e-5\\12500 2e-5\\14000 8e-6\\16000 3e-6\\18000 1e-6\\20000 0\\}\TFdO
\pgfplotstableread[row sep=\\]{x y\\0 0\\1000 1e-5\\2000 4e-5\\3000 9e-5\\4000 1.4e-4\\5000 1.7e-4\\5600 1.8e-4\\6200 1.7e-4\\7000 1.2e-4\\8000 6e-5\\9000 3e-5\\10000 1.5e-5\\12000 4e-6\\15000 0\\20000 0\\}\TFdB
\pgfplotstableread[row sep=\\]{x y\\0 0\\1000 1e-5\\2000 8e-5\\3000 2e-4\\3700 2.6e-4\\4200 2.4e-4\\5000 1.5e-4\\6000 7e-5\\7000 3.5e-5\\8000 2e-5\\10000 8e-6\\12000 3e-6\\15000 0\\20000 0\\}\TFdC
\pgfplotstableread[row sep=\\]{x y\\0 0\\1000 2e-5\\2000 1e-4\\3000 2.2e-4\\3500 2.62e-4\\4000 2.4e-4\\5000 1.2e-4\\6000 5e-5\\7000 3.5e-5\\8000 2e-5\\10000 8e-6\\12000 2e-6\\15000 0\\20000 0\\}\TFdS
\pgfplotstableread[row sep=\\]{x y\\-0.24 0\\-0.1 0.005\\0 0.03\\0.1 0.15\\0.2 0.4\\0.3 0.7\\0.4 0.87\\0.55 0.93\\0.7 0.85\\0.85 0.72\\1.0 0.5\\1.2 0.3\\1.4 0.18\\1.6 0.13\\1.8 0.1\\2.0 0.09\\2.2 0.1\\2.5 0.09\\2.7 0.07\\2.9 0.03\\3.1 0.01\\3.374 0\\}\TFiG
\pgfplotstableread[row sep=\\]{x y\\-0.24 0\\0 0.02\\0.2 0.08\\0.4 0.12\\0.6 0.16\\0.8 0.2\\1.0 0.22\\1.2 0.21\\1.4 0.22\\1.6 0.3\\1.8 0.45\\2.0 0.6\\2.15 0.7\\2.3 0.72\\2.45 0.68\\2.6 0.55\\2.75 0.35\\2.9 0.17\\3.0 0.08\\3.2 0.02\\3.374 0\\}\TFiO
\pgfplotstableread[row sep=\\]{x y\\-0.24 0\\0 0.03\\0.2 0.3\\0.4 0.5\\0.52 0.54\\0.7 0.47\\0.9 0.35\\1.1 0.22\\1.3 0.14\\1.5 0.12\\1.7 0.15\\1.9 0.22\\2.1 0.33\\2.4 0.45\\2.65 0.52\\2.8 0.45\\3.0 0.22\\3.2 0.05\\3.374 0.01\\}\TFiB
\pgfplotstableread[row sep=\\]{x y\\-0.24 0\\0 0.05\\0.2 0.25\\0.4 0.4\\0.6 0.46\\0.8 0.44\\1.0 0.38\\1.2 0.3\\1.4 0.24\\1.6 0.2\\1.8 0.2\\2.0 0.25\\2.3 0.35\\2.55 0.43\\2.7 0.4\\2.9 0.25\\3.1 0.08\\3.3 0.02\\3.374 0.01\\}\TFiC
\pgfplotstableread[row sep=\\]{x y\\-0.24 0\\0 0.05\\0.2 0.25\\0.4 0.38\\0.6 0.43\\0.8 0.42\\1.0 0.38\\1.2 0.31\\1.4 0.25\\1.6 0.23\\1.8 0.25\\2.0 0.3\\2.3 0.38\\2.6 0.44\\2.75 0.38\\2.9 0.25\\3.1 0.08\\3.3 0.02\\3.374 0.01\\}\TFiS
\begin{document}
\begin{tikzpicture}
\path[use as bounding box] (0,0) rectangle (997pt,-1203pt);
\node[anchor=base east] at (979pt,-19pt) {\fontsize{17}{20}\selectfont 20};
% ===== Row A =====
\begin{axis}[pnl, at={(36.5pt,-102.5pt)}, xmin=0.4235, xmax=1.0405, ymin=-0.18, ymax=5.58,
 xtick={0.5,0.6,0.7,0.8,0.9,1.0}, xticklabels={0.5,0.6,0.7,0.8,0.9,1.0},
 ytick={0,1,2,3,4,5}, yticklabels={0,1,2,3,4,5}, title={q}, ylabel={GW150914\_095045}]
\curves{\TAqG}{\TAqO}{\TAqB}{\TAqT}{\TAqC}{\TAqS}
\end{axis}
\begin{axis}[pnl, at={(369.5pt,-102.5pt)}, xmin=151, xmax=812, ymin=-0.0002, ymax=0.00506,
 xtick={200,300,400,500,600,700,800}, xticklabels={200,300,400,500,600,700,800},
 ytick={0,0.001,0.002,0.003,0.004,0.005}, yticklabels={0.000,0.001,0.002,0.003,0.004,0.005}, title={\dL}]
\curves{\TAdG}{\TAdO}{\TAdB}{\TAdT}{\TAdC}{\TAdS}
\end{axis}
\begin{axis}[pnl, at={(702.5pt,-102.5pt)}, xmin=-0.185, xmax=3.375, ymin=-0.075, ymax=1.88,
 xtick={0,1,2,3}, xticklabels={0,1,2,3},
 ytick={0,0.5,1,1.5}, yticklabels={0.0,0.5,1.0,1.5}, title={ι}]
\curves{\TAiG}{\TAiO}{\TAiB}{\TAiT}{\TAiC}{\TAiS}
\end{axis}
% ===== Row B =====
\begin{axis}[pnl, at={(36.5pt,-274.1pt)}, xmin=0.115, xmax=0.686, ymin=-0.42, ymax=10.0,
 xtick={0.2,0.3,0.4,0.5,0.6}, xticklabels={0.2,0.3,0.4,0.5,0.6},
 ytick={0,2,4,6,8}, yticklabels={0,2,4,6,8}, ylabel={GW190412\_053044}]
\curves{\TBqG}{\TBqO}{\TBqB}{\TBqT}{\TBqC}{\TBqS}
\end{axis}
\begin{axis}[pnl, at={(369.5pt,-274.1pt)}, xmin=310, xmax=1115, ymin=-0.00021, ymax=0.00443,
 xtick={400,600,800,1000}, xticklabels={400,600,800,1000},
 ytick={0,0.001,0.002,0.003,0.004}, yticklabels={0.000,0.001,0.002,0.003,0.004}]
\curves{\TBdG}{\TBdO}{\TBdB}{\TBdT}{\TBdC}{\TBdS}
\end{axis}
\begin{axis}[pnl, at={(702.5pt,-274.1pt)}, xmin=-0.05, xmax=3.09, ymin=-0.1, ymax=2.10,
 xtick={0,0.5,1,1.5,2,2.5,3}, xticklabels={0.0,0.5,1.0,1.5,2.0,2.5,3.0},
 ytick={0,0.5,1,1.5,2}, yticklabels={0.0,0.5,1.0,1.5,2.0}]
\curves{\TBiG}{\TBiO}{\TBiB}{\TBiT}{\TBiC}{\TBiS}
\end{axis}
% ===== Row C =====
\begin{axis}[pnl, at={(36.5pt,-445.7pt)}, xmin=0.054, xmax=1.062, ymin=-0.146, ymax=3.31,
 xtick={0.2,0.4,0.6,0.8,1.0}, xticklabels={0.2,0.4,0.6,0.8,1.0},
 ytick={0,1,2,3}, yticklabels={0,1,2,3}, ylabel={GW190521\_030229}]
\curves{\TCqG}{\TCqO}{\TCqB}{\TCqT}{\TCqC}{\relax}
\end{axis}
\begin{axis}[pnl, at={(369.5pt,-445.7pt)}, xmin=310, xmax=8310, ymin=-0.000017, ymax=0.000383,
 xtick={2000,4000,6000,8000}, xticklabels={2000,4000,6000,8000},
 ytick={0,0.0001,0.0002,0.0003}, yticklabels={0.0000,0.0001,0.0002,0.0003}]
\curves{\TCdG}{\TCdO}{\TCdB}{\TCdT}{\TCdC}{\relax}
\end{axis}
\begin{axis}[pnl, at={(702.5pt,-445.7pt)}, xmin=-0.234, xmax=3.287, ymin=-0.035, ymax=0.80,
 xtick={0,1,2,3}, xticklabels={0,1,2,3},
 ytick={0,0.2,0.4,0.6}, yticklabels={0.0,0.2,0.4,0.6}]
\curves{\TCiG}{\TCiO}{\TCiB}{\TCiT}{\TCiC}{\relax}
\end{axis}
% ===== Row D =====
\begin{axis}[pnl, at={(36.5pt,-617.3pt)}, xmin=0.307, xmax=1.046, ymin=-0.164, ymax=3.50,
 xtick={0.4,0.6,0.8,1.0}, xticklabels={0.4,0.6,0.8,1.0},
 ytick={0,1,2,3}, yticklabels={0,1,2,3}, ylabel={GW191109\_010717}]
\curves{\TDqG}{\TDqO}{\TDqB}{\TDqT}{\TDqC}{\TDqS}
\end{axis}
\begin{axis}[pnl, at={(369.5pt,-617.3pt)}, xmin=55, xmax=4325, ymin=-0.00005, ymax=0.00105,
 xtick={1000,2000,3000,4000}, xticklabels={1000,2000,3000,4000},
 ytick={0,0.0002,0.0004,0.0006,0.0008,0.001}, yticklabels={0.0000,0.0002,0.0004,0.0006,0.0008,0.0010}]
\curves{\TDdG}{\TDdO}{\TDdB}{\TDdT}{\TDdC}{\TDdS}
\end{axis}
\begin{axis}[pnl, at={(702.5pt,-617.3pt)}, xmin=-0.096, xmax=3.338, ymin=-0.046, ymax=0.979,
 xtick={0,0.5,1,1.5,2,2.5,3}, xticklabels={0.0,0.5,1.0,1.5,2.0,2.5,3.0},
 ytick={0,0.2,0.4,0.6,0.8}, yticklabels={0.0,0.2,0.4,0.6,0.8}]
\curves{\TDiG}{\TDiO}{\TDiB}{\TDiT}{\TDiC}{\TDiS}
\end{axis}
% ===== Row E =====
\begin{axis}[pnl, at={(36.5pt,-788.9pt)}, xmin=0.28, xmax=1.047, ymin=-0.26, ymax=5.79,
 xtick={0.4,0.6,0.8,1.0}, xticklabels={0.4,0.6,0.8,1.0},
 ytick={0,2,4}, yticklabels={0,2,4}, ylabel={GW200129\_065458}]
\curves{\TEqG}{\TEqO}{\TEqB}{\TEqT}{\TEqC}{\TEqS}
\end{axis}
\begin{axis}[pnl, at={(369.5pt,-788.9pt)}, xmin=240, xmax=1400, ymin=-0.000135, ymax=0.00305,
 xtick={400,600,800,1000,1200,1400}, xticklabels={400,600,800,1000,1200,1400},
 ytick={0,0.001,0.002,0.003}, yticklabels={0.000,0.001,0.002,0.003}]
\curves{\TEdG}{\TEdO}{\TEdB}{\TEdT}{\TEdC}{\TEdS}
\end{axis}
\begin{axis}[pnl, at={(702.5pt,-788.9pt)}, xmin=-0.057, xmax=1.365, ymin=-0.078, ymax=1.76,
 xtick={0,0.25,0.5,0.75,1,1.25}, xticklabels={0.00,0.25,0.50,0.75,1.00,1.25},
 ytick={0,0.5,1,1.5}, yticklabels={0.0,0.5,1.0,1.5}]
\curves{\TEiG}{\TEiO}{\TEiB}{\TEiT}{\TEiC}{\TEiS}
\end{axis}
% ===== Row F =====
\begin{axis}[pnl, lgd, at={(36.5pt,-960.5pt)}, xmin=-0.016, xmax=1.071, ymin=-0.395, ymax=7.6,
 xtick={0,0.2,0.4,0.6,0.8,1.0}, xticklabels={0.0,0.2,0.4,0.6,0.8,1.0},
 ytick={0,2,4,6}, yticklabels={0,2,4,6}, ylabel={GW200208\_222617}, xlabel={q},
 legend style={at={(axis description cs:1.66,-0.648)}}]
\curves{\TFqG}{\TFqO}{\TFqB}{\relax}{\TFqC}{\TFqS}
\addlegendimage{sC}\addlegendentry{GWTC IMRPhenomXPHM}
\addlegendimage{sS}\addlegendentry{GWTC SEOBNRv4PHM}
\addlegendimage{sT}\addlegendentry{4OGC IMRPhenomXPHM}
\end{axis}
\begin{axis}[pnl, lgd, at={(369.5pt,-960.5pt)}, xmin=0, xmax=20000, ymin=-0.000013, ymax=0.000276,
 xtick={0,5000,10000,15000,20000}, xticklabels={0,5000,10000,15000,20000},
 ytick={0,0.00005,0.0001,0.00015,0.0002,0.00025}, yticklabels={0.00000,0.00005,0.00010,0.00015,0.00020,0.00025},
 xlabel={\dL},
 legend style={at={(axis description cs:0.422,-0.477)}}]
\curves{\TFdG}{\TFdO}{\TFdB}{\relax}{\TFdC}{\TFdS}
\addlegendimage{sB}\addlegendentry{Baseline}
\addlegendimage{sG}\addlegendentry{Absolute Phase Errors}
\addlegendimage{sO}\addlegendentry{Relative Phase Errors}
\end{axis}
\begin{axis}[pnl, at={(702.5pt,-960.5pt)}, xmin=-0.24, xmax=3.374, ymin=-0.046, ymax=0.973,
 xtick={0,1,2,3}, xticklabels={0,1,2,3},
 ytick={0,0.2,0.4,0.6,0.8}, yticklabels={0.0,0.2,0.4,0.6,0.8}, xlabel={ι}]
\curves{\TFiG}{\TFiO}{\TFiB}{\relax}{\TFiC}{\TFiS}
\end{axis}
\end{tikzpicture}
\end{document}
